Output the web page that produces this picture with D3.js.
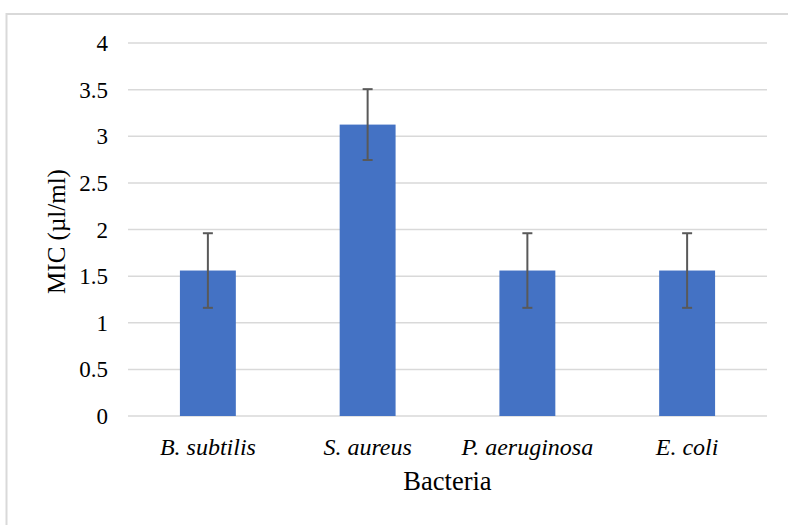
<!DOCTYPE html>
<html>
<head>
<meta charset="utf-8">
<script src="https://cdn.jsdelivr.net/npm/d3@7"></script>
<style>
  html, body { margin: 0; padding: 0; background: #fff; }
  svg { display: block; }
</style>
</head>
<body>
<svg id="chart" width="788" height="525"></svg>
<script>
const categories = ["B. subtilis", "S. aureus", "P. aeruginosa", "E. coli"];
const values = [1.56, 3.125, 1.56, 1.56];
const errors = [0.40, 0.38, 0.40, 0.40];
const yTicks = [0, 0.5, 1, 1.5, 2, 2.5, 3, 3.5, 4];
const yTickLabels = ["0", "0.5", "1", "1.5", "2", "2.5", "3", "3.5", "4"];
const yTitle = "MIC (µl/ml)";
const xTitle = "Bacteria";

const FONT = "'Liberation Serif', 'Times New Roman', serif";
const svg = d3.select("#chart");
const W = 788, H = 525;
const margin = { left: 128, right: 21, top: 43, bottom: 109 };
const plotW = W - margin.left - margin.right;
const plotH = H - margin.top - margin.bottom;

// chart area border
svg.append("rect")
  .attr("x", 6.5).attr("y", 14)
  .attr("width", W + 10).attr("height", H + 10)
  .attr("fill", "#fff")
  .attr("stroke", "#d9d9d9")
  .attr("stroke-width", 2);

const g = svg.append("g").attr("transform", `translate(${margin.left},${margin.top})`);

const x = d3.scaleBand().domain(categories).range([0, plotW]).paddingInner(0.65).paddingOuter(0.325);
const y = d3.scaleLinear().domain([0, 4]).range([plotH, 0]);

// gridlines
g.append("g").selectAll("line").data(yTicks).join("line")
  .attr("x1", 0).attr("x2", plotW)
  .attr("y1", d => y(d)).attr("y2", d => y(d))
  .attr("stroke", "#d9d9d9").attr("stroke-width", 1.5);

// y axis labels
const yAxis = d3.axisLeft(y).tickValues(yTicks).tickFormat((d, i) => yTickLabels[i]).tickSize(0).tickPadding(20);
const ya = g.append("g").call(yAxis).attr("font-family", FONT).attr("font-size", 23);
ya.select(".domain").remove();
ya.selectAll("text").attr("fill", "#000").attr("dy", "0.33em");

// bars
g.append("g").selectAll("rect").data(values).join("rect")
  .attr("x", (d, i) => x(categories[i]))
  .attr("y", d => y(d))
  .attr("width", x.bandwidth())
  .attr("height", d => plotH - y(d))
  .attr("fill", "#4472c4");

// error bars
const eg = g.append("g").attr("stroke", "#595959").attr("stroke-width", 2);
values.forEach((v, i) => {
  const cx = x(categories[i]) + x.bandwidth() / 2;
  const top = y(v + errors[i]), bot = y(v - errors[i]);
  eg.append("line").attr("x1", cx).attr("x2", cx).attr("y1", top).attr("y2", bot);
  eg.append("line").attr("x1", cx - 5).attr("x2", cx + 5).attr("y1", top).attr("y2", top);
  eg.append("line").attr("x1", cx - 5).attr("x2", cx + 5).attr("y1", bot).attr("y2", bot);
});

// x axis labels
const xAxis = d3.axisBottom(x).tickSize(0);
const xa = g.append("g").attr("transform", `translate(0,${plotH})`).call(xAxis)
  .attr("font-family", FONT).attr("font-size", 24);
xa.select(".domain").remove();
xa.selectAll("text")
  .attr("font-style", "italic")
  .attr("fill", "#000")
  .attr("y", 39).attr("dy", 0);

// axis titles
svg.append("text")
  .attr("x", margin.left + plotW / 2).attr("y", 490)
  .attr("text-anchor", "middle")
  .attr("font-family", FONT)
  .attr("font-size", 26.5).attr("fill", "#000")
  .text(xTitle);

svg.append("text")
  .attr("transform", `translate(65,${margin.top + plotH / 2 + 2}) rotate(-90)`)
  .attr("text-anchor", "middle")
  .attr("font-family", FONT)
  .attr("font-size", 25).attr("fill", "#000")
  .text(yTitle);
</script>
</body>
</html>
